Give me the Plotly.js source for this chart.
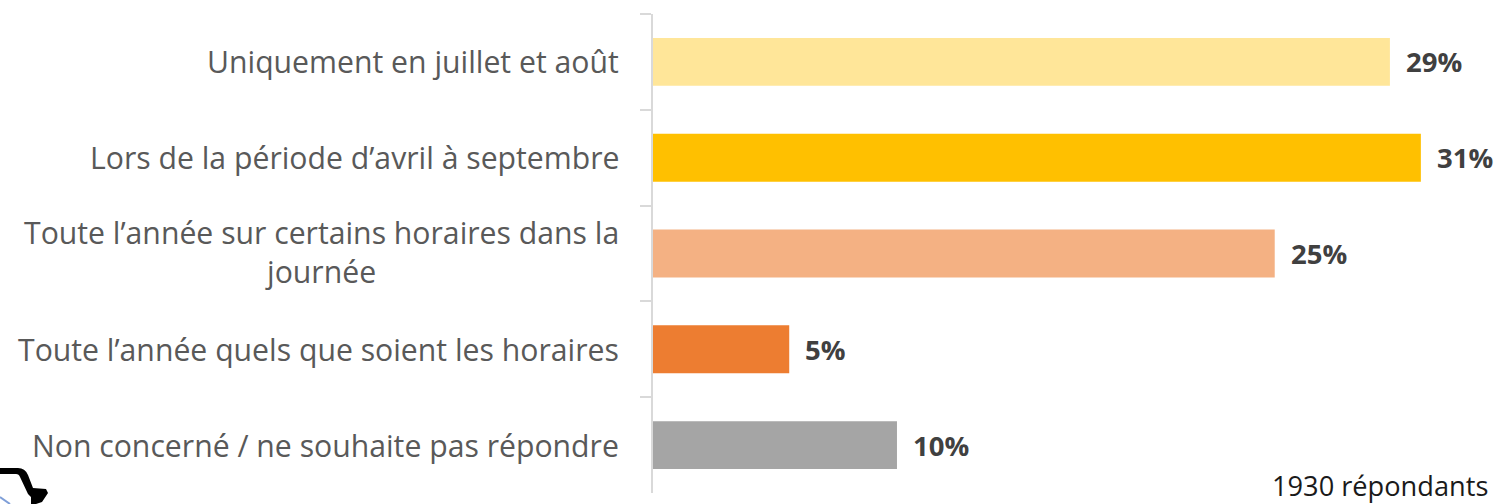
<!DOCTYPE html>
<html><head><meta charset="utf-8">
<script src="https://cdn.plot.ly/plotly-3.0.1.min.js"></script>
<style>html,body{margin:0;padding:0;background:#fff}</style></head>
<body><div id="chart" style="width:1498px;height:504px"></div>
<script>
const categories = ["Uniquement en juillet et août","Lors de la période d’avril à septembre","Toute l’année sur certains horaires dans la<br>journée","Toute l’année quels que soient les horaires","Non concerné / ne souhaite pas répondre"];
const values = [29.75,31,25.1,5.5,9.85];
const valueLabels = ["29%","31%","25%","5%","10%"];
const barColors = ["#FFE699","#FFC000","#F4B183","#ED7D31","#A5A5A5"];
const W=1498,H=504,L=653,T=14,B=11,R=0;
const px=x=>(x-L)/(W-L-R), py=y=>1-(y-T)/(H-T-B);
const carPath=[["M",-2,468],["L",18,468],["Q",25,468,28,475],["L",33,488],["L",46,489],["L",48,493],["L",42,502],["L",36,504],["L",31,504],["L",31,497],["L",28,494],["L",20,477],["Q",19,474,16,474],["L",-2,474]];
const path=carPath.map(p=>p[0]+p.slice(1).reduce((a,v,i)=>a.concat(i%2?py(v):px(v)),[]).join(" ")).join(" ")+" Z";
const annotations=[];
categories.forEach((c,i)=>{
 annotations.push({xref:"x",yref:"y",x:0,y:c,text:c,showarrow:false,xanchor:"right",align:"center",xshift:-34,yshift:c.includes("<br>")?2:0,font:{family:"Open Sans",size:30.2,color:"#595959"},borderpad:0,borderwidth:0});
 annotations.push({xref:"x",yref:"y",x:values[i],y:c,text:valueLabels[i],showarrow:false,xanchor:"left",xshift:15,font:{family:"Open Sans",size:27.5,color:"#404040",weight:700},borderpad:0});
});
annotations.push({xref:"paper",yref:"paper",x:px(1489),y:py(485.5),text:"1930 répondants",showarrow:false,xanchor:"right",yanchor:"middle",font:{family:"Open Sans",size:27.2,color:"#1a1a1a"},borderpad:0});
Plotly.newPlot("chart",[{type:"bar",orientation:"h",y:categories,x:values,marker:{color:barColors},hoverinfo:"skip"}],{
 width:W,height:H,margin:{l:L,t:T,b:B,r:R,pad:0},paper_bgcolor:"#fff",plot_bgcolor:"#fff",showlegend:false,bargap:0.5,
 xaxis:{range:[0,(W-L)/24.77],visible:false,fixedrange:true},
 yaxis:{type:"category",autorange:"reversed",showticklabels:false,tickson:"boundaries",ticks:"outside",ticklen:11,tickwidth:2,tickcolor:"#D9D9D9",showline:true,linecolor:"#D9D9D9",linewidth:2,showgrid:false,zeroline:false,fixedrange:true},
 annotations:annotations,
 shapes:[
  {type:"line",xref:"paper",yref:"paper",x0:px(0),y0:py(497),x1:px(10),y1:py(504),line:{color:"#7F9FD8",width:2}},
  {type:"path",xref:"paper",yref:"paper",path:path,fillcolor:"#000",line:{width:0},layer:"above"}
 ]
},{staticPlot:true,displayModeBar:false});
</script></body></html>
